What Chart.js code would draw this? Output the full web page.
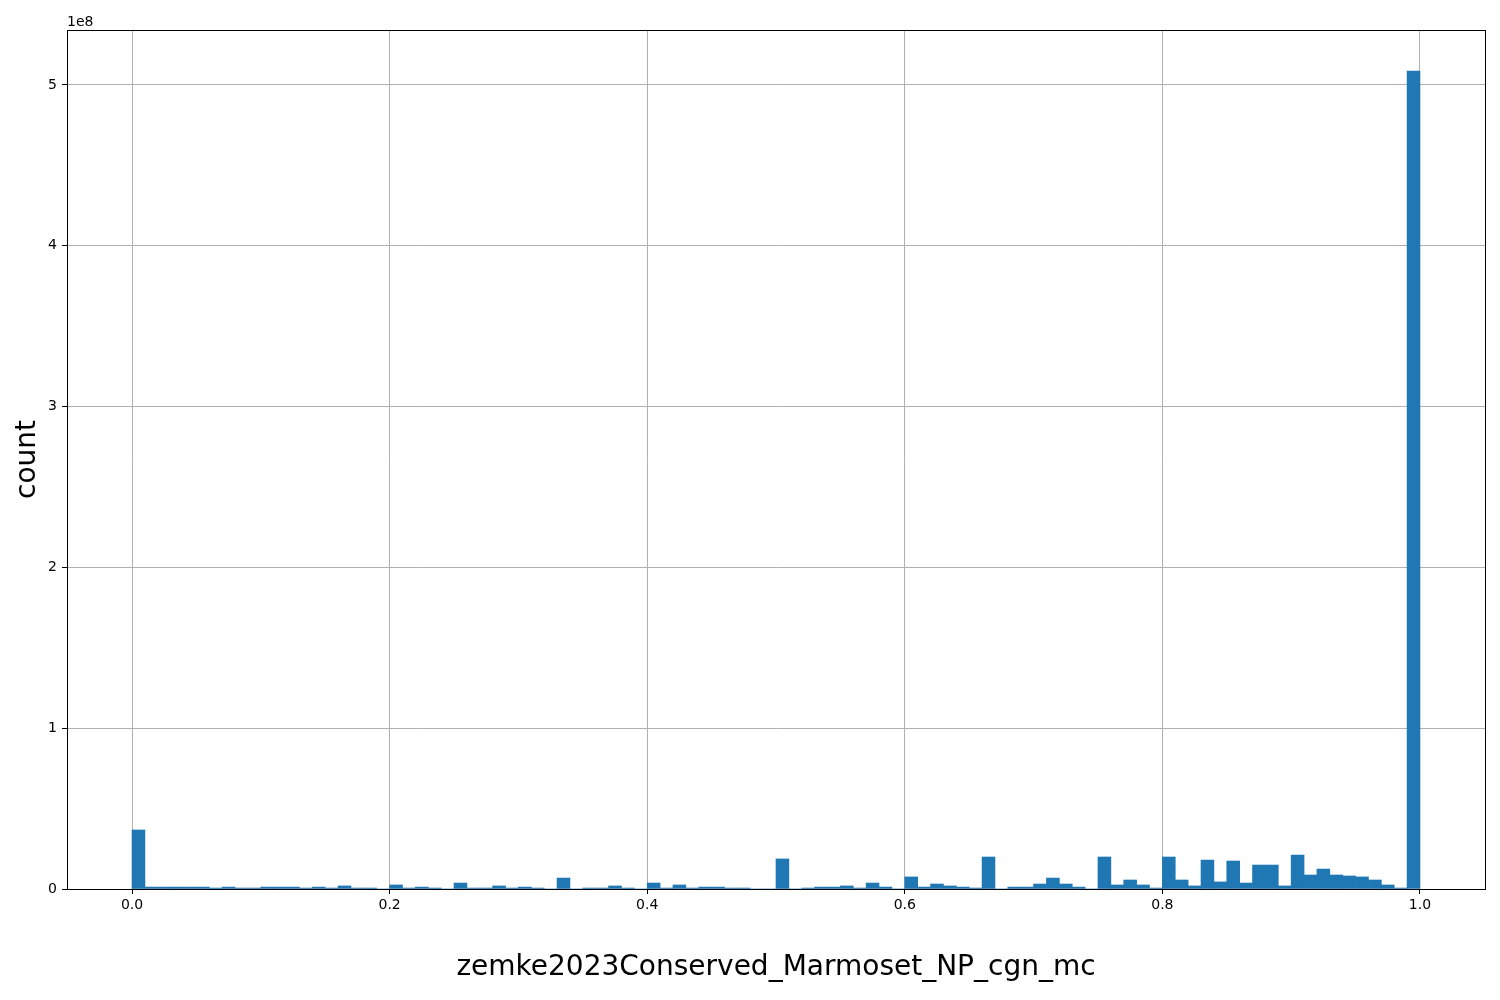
<!DOCTYPE html>
<html>
<head>
<meta charset="utf-8">
<script src="https://cdn.jsdelivr.net/npm/chart.js@4/dist/chart.umd.min.js"></script>
<style>
html,body{margin:0;padding:0;background:#fff;}
#wrap{width:1500px;height:1000px;position:relative;}
</style>
</head>
<body>
<div id="wrap"><canvas id="c" width="1500" height="1000"></canvas></div>
<script>
// Histogram bin left edges (bin width 0.01)
const binLeft = [0.00,0.01,0.02,0.03,0.04,0.05,0.06,0.07,0.08,0.09,
0.10,0.11,0.12,0.13,0.14,0.15,0.16,0.17,0.18,0.19,
0.20,0.21,0.22,0.23,0.24,0.25,0.26,0.27,0.28,0.29,
0.30,0.31,0.32,0.33,0.34,0.35,0.36,0.37,0.38,0.39,
0.40,0.41,0.42,0.43,0.44,0.45,0.46,0.47,0.48,0.49,
0.50,0.51,0.52,0.53,0.54,0.55,0.56,0.57,0.58,0.59,
0.60,0.61,0.62,0.63,0.64,0.65,0.66,0.67,0.68,0.69,
0.70,0.71,0.72,0.73,0.74,0.75,0.76,0.77,0.78,0.79,
0.80,0.81,0.82,0.83,0.84,0.85,0.86,0.87,0.88,0.89,
0.90,0.91,0.92,0.93,0.94,0.95,0.96,0.97,0.98,0.99];
const binWidth = 0.01;

// Counts per bin
const counts = [36.7e6,1.2e6,1.2e6,1.2e6,1.2e6,1.2e6,0.6e6,1.2e6,0.6e6,0.6e6,
1.2e6,1.2e6,1.2e6,0.6e6,1.2e6,0.6e6,1.9e6,0.6e6,0.6e6,0,
2.5e6,0.6e6,1.2e6,0.6e6,0,3.7e6,0.6e6,0.6e6,1.9e6,0.6e6,
1.2e6,0.6e6,0,6.8e6,0,0.6e6,0.6e6,1.9e6,0.6e6,0,
3.7e6,0.6e6,2.5e6,0.6e6,1.2e6,1.2e6,0.6e6,0.6e6,0,0,
18.7e6,0,0.6e6,1.2e6,1.2e6,1.9e6,0.6e6,3.7e6,1.2e6,0,
7.5e6,1.2e6,3.1e6,1.9e6,1.2e6,0.6e6,19.9e6,0,1.2e6,1.2e6,
3.1e6,6.8e6,3.1e6,1.2e6,0,19.9e6,2.5e6,5.6e6,2.5e6,0.6e6,
19.9e6,5.6e6,1.9e6,18.0e6,4.4e6,17.4e6,3.7e6,14.9e6,14.9e6,1.9e6,
21.1e6,8.7e6,12.4e6,8.7e6,8.1e6,7.5e6,5.6e6,2.5e6,0.6e6,508.7e6];

const xTicks = [0.0,0.2,0.4,0.6,0.8,1.0];
const yTicks = [0,1e8,2e8,3e8,4e8,5e8];
const xTitle = 'zemke2023Conserved_Marmoset_NP_cgn_mc';
const yTitle = 'count';
const yOffsetText = '1e8';

const points = binLeft.map((b,i)=>({x: b + binWidth/2, y: counts[i]}));
const FONT = 'DejaVu Sans';

const framePlugin = {
  id:'frame',
  afterDraw(chart){
    const {ctx, chartArea:a} = chart;
    ctx.save();
    ctx.strokeStyle = '#000';
    ctx.lineWidth = 1;
    ctx.strokeRect(Math.round(a.left)+0.5, Math.round(a.top)+0.5, Math.round(a.right-a.left), Math.round(a.bottom-a.top));
    ctx.fillStyle = '#000';
    ctx.font = '14px "' + FONT + '"';
    ctx.textAlign = 'left';
    ctx.textBaseline = 'alphabetic';
    ctx.fillText(yOffsetText, a.left, a.top - 4);
    ctx.restore();
  }
};

new Chart(document.getElementById('c'), {
  type:'bar',
  data:{datasets:[{data:points, backgroundColor:'#1f77b4', borderWidth:0, barPercentage:1, categoryPercentage:1, grouped:false}]},
  options:{
    responsive:false, animation:false, devicePixelRatio:1,
    layout:{padding:{top:30,right:15,left:0,bottom:0}},
    plugins:{legend:{display:false}, tooltip:{enabled:false}},
    scales:{
      x:{type:'linear', min:-0.0505, max:1.0505, z:1, offset:false,
        afterBuildTicks(s){ s.ticks = xTicks.map(v=>({value:v})); },
        afterFit(s){ s.height = 111; },
        ticks:{color:'#000', font:{family:FONT,size:14}, padding:3, maxRotation:0, autoSkip:false,
          callback:(v)=>Number(v).toFixed(1)},
        grid:{color:'#b0b0b0', lineWidth:1, tickColor:'#000', tickLength:5, offset:false},
        border:{display:true, color:'#000', width:1},
        title:{display:true, text:xTitle, color:'#000', font:{family:FONT,size:28}, padding:{top:0,bottom:15}}
      },
      y:{type:'linear', min:0, max:5.342e8, z:1,
        afterBuildTicks(s){ s.ticks = yTicks.map(v=>({value:v})); },
        afterFit(s){ s.width = 67; },
        ticks:{color:'#000', font:{family:FONT,size:14}, padding:5,
          callback:(v)=>String(Math.round(v/1e8))},
        grid:{color:'#b0b0b0', lineWidth:1, tickColor:'#000', tickLength:5},
        border:{display:true, color:'#000', width:1},
        title:{display:true, text:yTitle, color:'#000', font:{family:FONT,size:28}, padding:{top:11,bottom:0}}
      }
    }
  },
  plugins:[framePlugin]
});
</script>
</body>
</html>
